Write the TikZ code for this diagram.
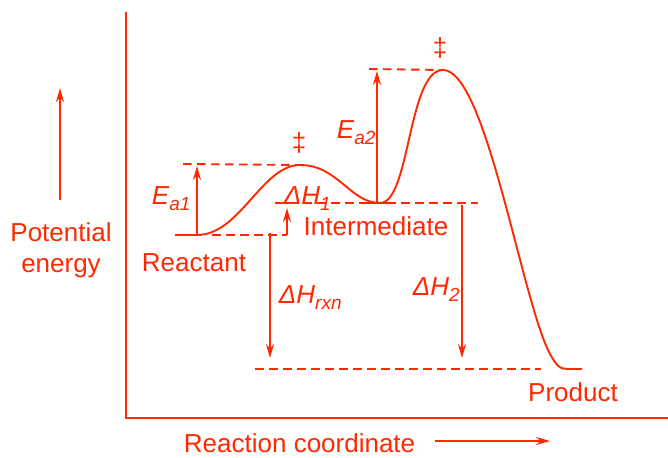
\documentclass[tikz,border=0pt]{standalone}
\usepackage{fontspec}
\setmainfont{Liberation Sans}
\usetikzlibrary{arrows.meta}
\definecolor{rc}{RGB}{255,40,0}
\newcommand\lsub[1]{\raisebox{-6pt}{\fontsize{19}{19}\selectfont #1}}
\begin{document}
\begin{tikzpicture}[x=1pt,y=-1pt, line width=1.9pt, draw=rc,
 lbl/.style={text=rc, font=\fontsize{26}{30}\selectfont, inner sep=0pt},
 dl/.style={dash pattern=on 8.5pt off 5.5pt},
 ar/.style={-{Stealth[length=14pt,width=8pt]}},
]
\useasboundingbox (0,0) rectangle (668,457);
% axes
\coordinate (axT) at (126,12);
\coordinate (axO) at (126,418);
\coordinate (axR) at (668,418);
\draw (axT) -- (axO) -- (axR);
% key points
\coordinate (R0) at (175,235);
\coordinate (R1) at (197,235);
\coordinate (TS1) at (300,165);
\coordinate (Imin) at (380,203);
\coordinate (I0) at (360,203);
\coordinate (I1) at (395,203);
\coordinate (TS2) at (443,70);
\coordinate (Pa) at (548,350);
\coordinate (P0) at (567,369);
\coordinate (P1) at (582,369);
% energy curve
\draw (R0) -- (R1) .. controls (240,235) and (262,165) .. (TS1)
  .. controls (338,165) and (350,203) .. (Imin)
  .. controls (410,203) and (408,70) .. (TS2)
  .. controls (485,70) and (520,290) .. (Pa)
  .. controls (556,366) and (560,369) .. (P0) -- (P1);
\draw (I0) -- (I1);
% dashed levels
\coordinate (E1L) at (183,164);
\coordinate (RdL) at (212,235);
\coordinate (RdR) at (287,235);
\coordinate (IdL) at (275,203);
\coordinate (IdR) at (478,203);
\coordinate (E2L) at (369,69);
\coordinate (PdL) at (255,369);
\coordinate (PdR) at (541,369);
\draw[dl] (E1L) -- (TS1);
\draw[dl] (RdL) -- (RdR);
\draw[dl] (IdL) -- (IdR);
\draw[dl] (E2L) -- (TS2);
\draw[dl] (PdL) -- (PdR);
% arrows
\coordinate (ea1a) at (197,235); \coordinate (ea1b) at (197,166);
\coordinate (h1a) at (287,235); \coordinate (h1b) at (287,208);
\coordinate (hra) at (270,233); \coordinate (hrb) at (270,358);
\coordinate (ea2a) at (377,203); \coordinate (ea2b) at (377,71);
\coordinate (h2a) at (462,205); \coordinate (h2b) at (462,358);
\coordinate (pea) at (60,200); \coordinate (peb) at (60,88);
\coordinate (rca) at (435,441); \coordinate (rcb) at (550,441);
\draw[ar] (ea1a) -- (ea1b);
\draw[ar] (h1a) -- (h1b);
\draw[ar] (hra) -- (hrb);
\draw[ar] (ea2a) -- (ea2b);
\draw[ar] (h2a) -- (h2b);
\draw[ar] (pea) -- (peb);
\draw[ar] (rca) -- (rcb);
% labels
\node[lbl] (tPot) at (61,232) {Potential};
\node[lbl] (tEn) at (61,268) {energy};
\node[lbl, anchor=base west] (tRC) at (183,452) {Reaction coordinate};
\node[lbl] (tReac) at (194,263) {Reactant};
\node[lbl] (tInt) at (376,226) {Intermediate};
\node[lbl] (tProd) at (573,392) {Product};
\node[lbl] (dd1) at (299,143) {‡};
\node[lbl] (dd2) at (440,48) {‡};
\node[lbl, anchor=west] (tEa1) at (151,199) {\itshape E\lsub{a1}};
\node[lbl, anchor=west] (tEa2) at (336,133) {\itshape E\lsub{a2}};
\node[lbl, anchor=west] (tH1) at (283,199) {\itshape ΔH\lsub{1}};
\node[lbl, anchor=west] (tHr) at (278,298) {\itshape ΔH\lsub{rxn}};
\node[lbl, anchor=west] (tH2) at (412,290) {\itshape ΔH\lsub{2}};
\end{tikzpicture}
\end{document}
